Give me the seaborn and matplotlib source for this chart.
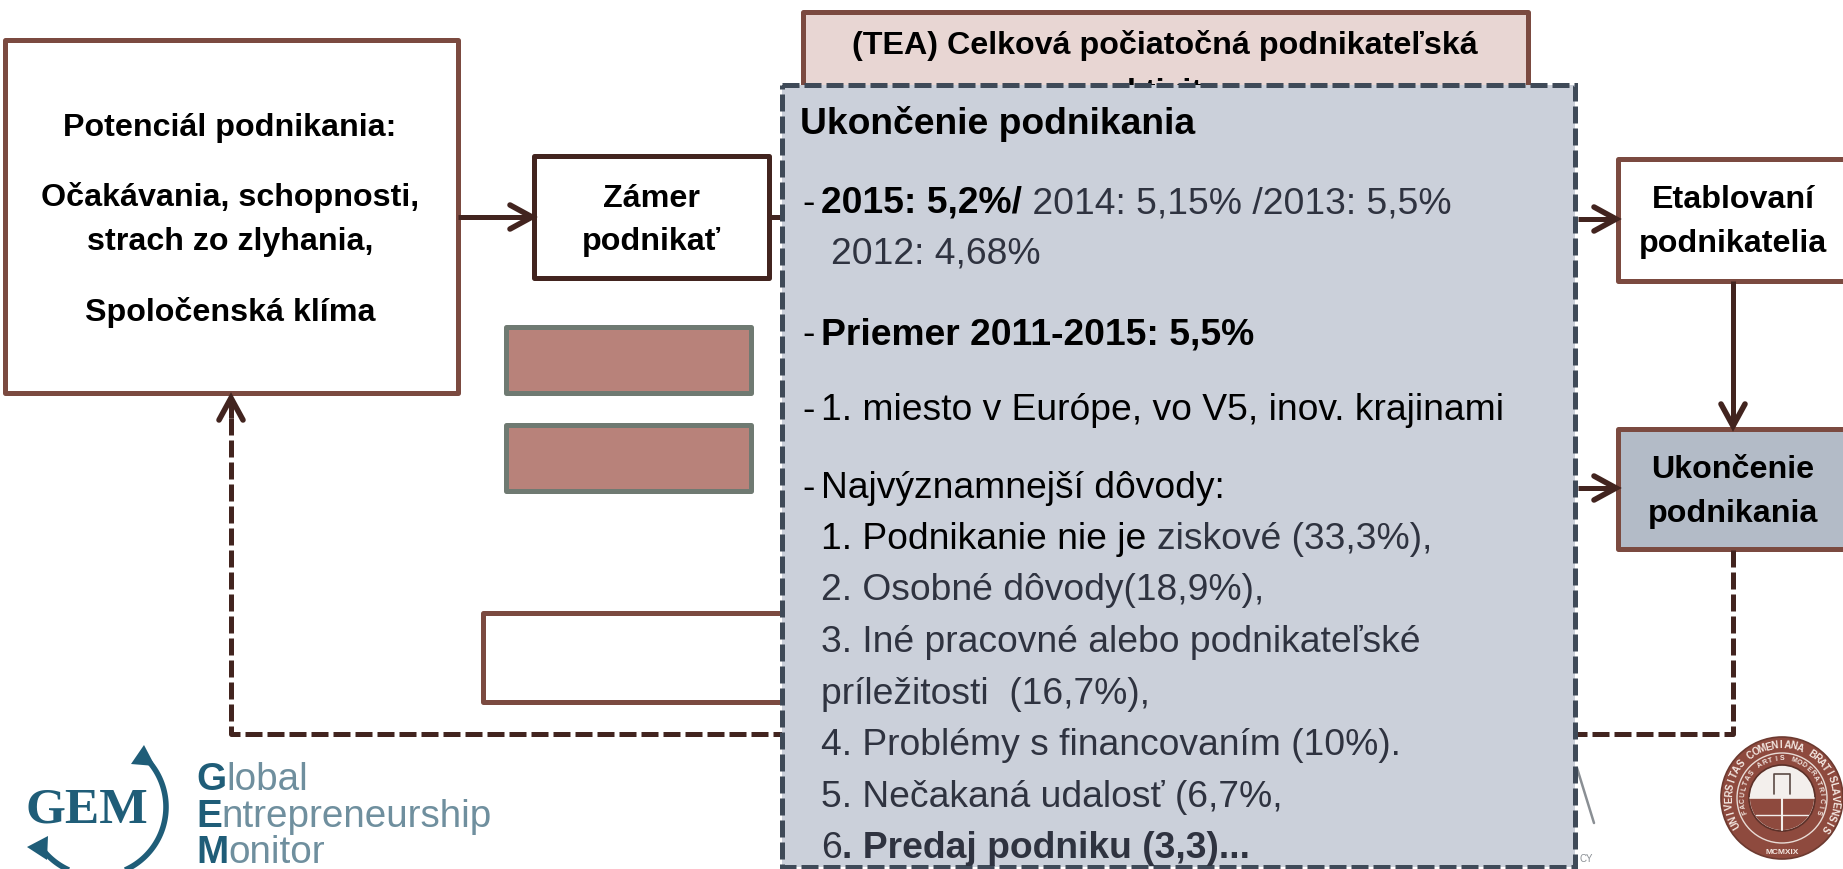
import numpy as np
import matplotlib
matplotlib.use("Agg")
import matplotlib.pyplot as plt
from matplotlib.patches import Rectangle, Circle, Polygon, Wedge
import seaborn as sns

# texts of the diagram
potencial_lines = ["Potenciál podnikania:", "Očakávania, schopnosti,", "strach zo zlyhania,", "Spoločenská klíma"]
zamer_lines = ["Zámer", "podnikať"]
tea_lines = ["(TEA) Celková počiatočná podnikateľská", "aktivita"]
etabl_lines = ["Etablovaní", "podnikatelia"]
ukonc_lines = ["Ukončenie", "podnikania"]
panel_title = "Ukončenie podnikania"
panel_2015 = "2015: 5,2%/"
panel_years = " 2014: 5,15% /2013: 5,5%"
panel_2012 = "2012: 4,68%"
panel_avg = "Priemer 2011-2015: 5,5%"
panel_rank = "1. miesto v Európe, vo V5, inov. krajinami"
panel_reasons = "Najvýznamnejší dôvody:"
reason_1a = "1. Podnikanie nie je "
reason_1b = "ziskové (33,3%),"
reasons_rest = ["2. Osobné dôvody(18,9%),", "3. Iné pracovné alebo podnikateľské",
                "príležitosti  (16,7%),", "4. Problémy s financovaním (10%).", "5. Nečakaná udalosť (6,7%,"]
reason_6a = "6"
reason_6b = ". Predaj podniku (3,3)..."
seal_outer = "UNIVERSITAS COMENIANA BRATISLAVENSIS"
seal_inner = "FACULTAS ARTIS MODERATRICIS"
seal_year = "MCMXIX"

BROWN = "#7b4a40"
DARK = "#42241f"
SLATE = "#3f4a58"
PANEL = "#cbd0da"
GREY_TXT = "#2f3340"
LOGO = "#1f5d78"
LOGO2 = "#6f8f9e"
LW = 3.6  # 5 px
DASH = (0, (3.4, 1.0))

sns.set_theme(style="white")
plt.rcParams['font.family'] = ['Liberation Sans', 'DejaVu Sans']

fig = plt.figure(figsize=(18.43, 8.69), dpi=100, facecolor="white")
ax = fig.add_axes([0, 0, 1, 1])
ax.set_xlim(0, 1843)
ax.set_ylim(869, 0)
ax.axis("off")
rend = fig.canvas.get_renderer()


def box(x0, y0, x1, y1, edge=BROWN, fill="white", lw=LW, z=2, **kw):
    ax.add_patch(Rectangle((x0, y0), x1 - x0, y1 - y0, fc=fill, ec=edge, lw=lw, zorder=z,
                           joinstyle="round", **kw))


def arrow(x0, y0, x1, y1, dashed=False):
    # shaft + open head
    d = np.array([x1 - x0, y1 - y0], dtype=float)
    d = d / np.hypot(*d)
    n = np.array([-d[1], d[0]])
    tip = np.array([x1, y1], dtype=float)
    a = tip - d * 22 + n * 12
    b = tip - d * 22 - n * 12
    ax.plot([x0, x1], [y0, y1], color=DARK, lw=LW, zorder=3, solid_capstyle="butt")
    ax.plot([a[0], tip[0], b[0]], [a[1], tip[1], b[1]], color=DARK, lw=LW + 0.4, zorder=3,
            solid_capstyle="round", solid_joinstyle="miter")


def runs(x, y, parts, size, z=6):
    # parts: (text, weight, colour), placed one after the other
    for txt, weight, col in parts:
        t = ax.text(x, y, txt, fontsize=size, fontweight=weight, color=col, ha="left", va="baseline", zorder=z)
        x += t.get_window_extent(rend).width
    return x


def center(x, ys, lines, size, z=4):
    for y, s in zip(ys, lines):
        ax.text(x, y, s, fontsize=size, fontweight="bold", color="black", ha="center", va="baseline", zorder=z)


# left side
box(5, 40, 458, 393)
center(230, [136, 206, 250, 321], potencial_lines, 23.2)
box(534, 156, 769, 278, edge=DARK)
center(651, [207, 250], zamer_lines, 23.2)
arrow(458, 217, 532, 217)
ax.plot([769, 785], [217, 217], color=DARK, lw=LW, zorder=3, solid_capstyle="butt")

# the two filled bars, their text sits hidden in the original
box(506, 327, 751, 393, edge="#6f7a72", fill="#b8827a")
box(506, 425, 751, 491, edge="#6f7a72", fill="#b8827a")

# box below and box above the panel
box(483, 613, 900, 702)
box(803, 12, 1528, 200, fill="#e8d6d3")
center(1165, [54, 101], tea_lines, 23.2)

# right side
box(1618, 159, 1900, 281)
center(1733, [208, 252], etabl_lines, 23.2)
box(1618, 429, 1900, 549, fill="#b3bbc7")
center(1733, [478, 522], ukonc_lines, 23.2)
arrow(1578, 219, 1616, 219)
arrow(1578, 488, 1616, 488)
arrow(1733, 281, 1733, 426)

# feedback dashed line
ax.plot([1733, 1733, 1570], [550, 734, 734], color=DARK, lw=LW, ls=DASH, zorder=3, solid_joinstyle="round")
ax.plot([790, 231, 231], [734, 734, 418], color=DARK, lw=LW, ls=DASH, zorder=3, solid_joinstyle="round")
arrow(231, 418, 231, 398)

# panel on top
ax.add_patch(Rectangle((782, 85), 793, 782, fc=PANEL, ec="none", zorder=5))
ax.add_patch(Rectangle((782, 85), 793, 782, fc="none", ec=SLATE, lw=LW, ls=DASH, zorder=5.5))

SZ = 26.8
TX = 821
ax.text(800, 134, panel_title, fontsize=SZ, fontweight="bold", color="black", zorder=6)
for y in [213, 344, 420, 498]:
    ax.text(802, y, "-", fontsize=SZ, color="black", zorder=6)
runs(TX, 213, [(panel_2015, "bold", "black"), (panel_years, "normal", GREY_TXT)], SZ)
ax.text(831, 264, panel_2012, fontsize=SZ, color=GREY_TXT, zorder=6)
ax.text(TX, 344, panel_avg, fontsize=SZ, fontweight="bold", color="black", zorder=6)
ax.text(TX, 420, panel_rank, fontsize=SZ, color="black", zorder=6)
ax.text(TX, 498, panel_reasons, fontsize=SZ, color="black", zorder=6)
runs(TX, 549, [(reason_1a, "normal", "black"), (reason_1b, "normal", GREY_TXT)], SZ)
for y, s in zip([600, 652, 704, 755, 807], reasons_rest):
    ax.text(TX, y, s, fontsize=SZ, color=GREY_TXT, zorder=6)
runs(TX, 858, [(reason_6a, "normal", GREY_TXT), (reason_6b, "bold", GREY_TXT)], SZ)

# GEM logo
th = np.radians(np.linspace(-49, 142, 120))
ax.plot(97 + 69 * np.cos(th), 807 + 69 * np.sin(th), color=LOGO, lw=4, zorder=2, solid_capstyle="butt")
ax.add_patch(Polygon([[144, 745], [131, 764], [155, 766]], fc=LOGO, ec="none", zorder=2))
ax.add_patch(Polygon([[27, 847], [48, 836], [47, 860]], fc=LOGO, ec="none", zorder=2))
ax.text(87, 805, "GEM", fontsize=37, fontweight="bold", family="Liberation Serif", color=LOGO,
        ha="center", va="center_baseline", zorder=3)
runs(196, 790, [("G", "bold", LOGO), ("lobal", "normal", LOGO2)], 27.8, z=2)
runs(196, 827, [("E", "bold", LOGO), ("ntrepreneurship", "normal", LOGO2)], 27.8, z=2)
runs(196, 863, [("M", "bold", LOGO), ("onitor", "normal", LOGO2)], 27.8, z=2)

# leftover of the logo that is behind the panel
ax.plot([1577, 1594], [768, 823], color="#8a8f94", lw=1.8, zorder=2)
ax.text(1579, 859, "CY", fontsize=7, color="#8a8f94", va="center", zorder=2)

# university seal
cx, cy = 1782, 798
ax.add_patch(Circle((cx, cy), 61, fc="#8e4a3e", ec="#6d3a30", lw=1.2, zorder=2))
ax.add_patch(Circle((cx, cy), 45, fc="none", ec="#e9dcd6", lw=1, zorder=3))
ax.add_patch(Circle((cx, cy), 33, fc="#f3efec", ec="#5b3028", lw=1.2, zorder=3))
ax.add_patch(Wedge((cx, cy), 32, 0, 180, fc="#8e4a3e", ec="none", zorder=3))
ax.plot([cx - 32, cx + 32], [cy, cy], color="#f3efec", lw=1.2, zorder=4)
ax.plot([cx, cx], [cy - 28, cy + 32], color="#f3efec", lw=1.5, zorder=4)
ax.plot([cx - 26, cx + 26], [cy + 17, cy + 17], color="#f3efec", lw=1, zorder=4)
ax.plot([cx - 8, cx - 8, cx + 8, cx + 8], [cy - 4, cy - 24, cy - 24, cy - 4], color="#5b4a44", lw=1.2, zorder=4)


def ring(text, r, start, stop, size):
    angs = np.radians(np.linspace(start, stop, len(text)))
    for ch, a in zip(text, angs):
        ax.text(cx + r * np.cos(a), cy + r * np.sin(a), ch, fontsize=size, fontweight="bold",
                color="#f3e7e1", rotation=-np.degrees(a) - 90, rotation_mode="anchor",
                ha="center", va="center", zorder=4)


ring(seal_outer, 53, 150, 395, 7)
ring(seal_inner, 39, 160, 380, 5)
ax.text(cx, cy + 54, seal_year, fontsize=6, fontweight="bold", color="#f3e7e1", ha="center", va="center", zorder=4)

fig.savefig("out.png", dpi=100)
